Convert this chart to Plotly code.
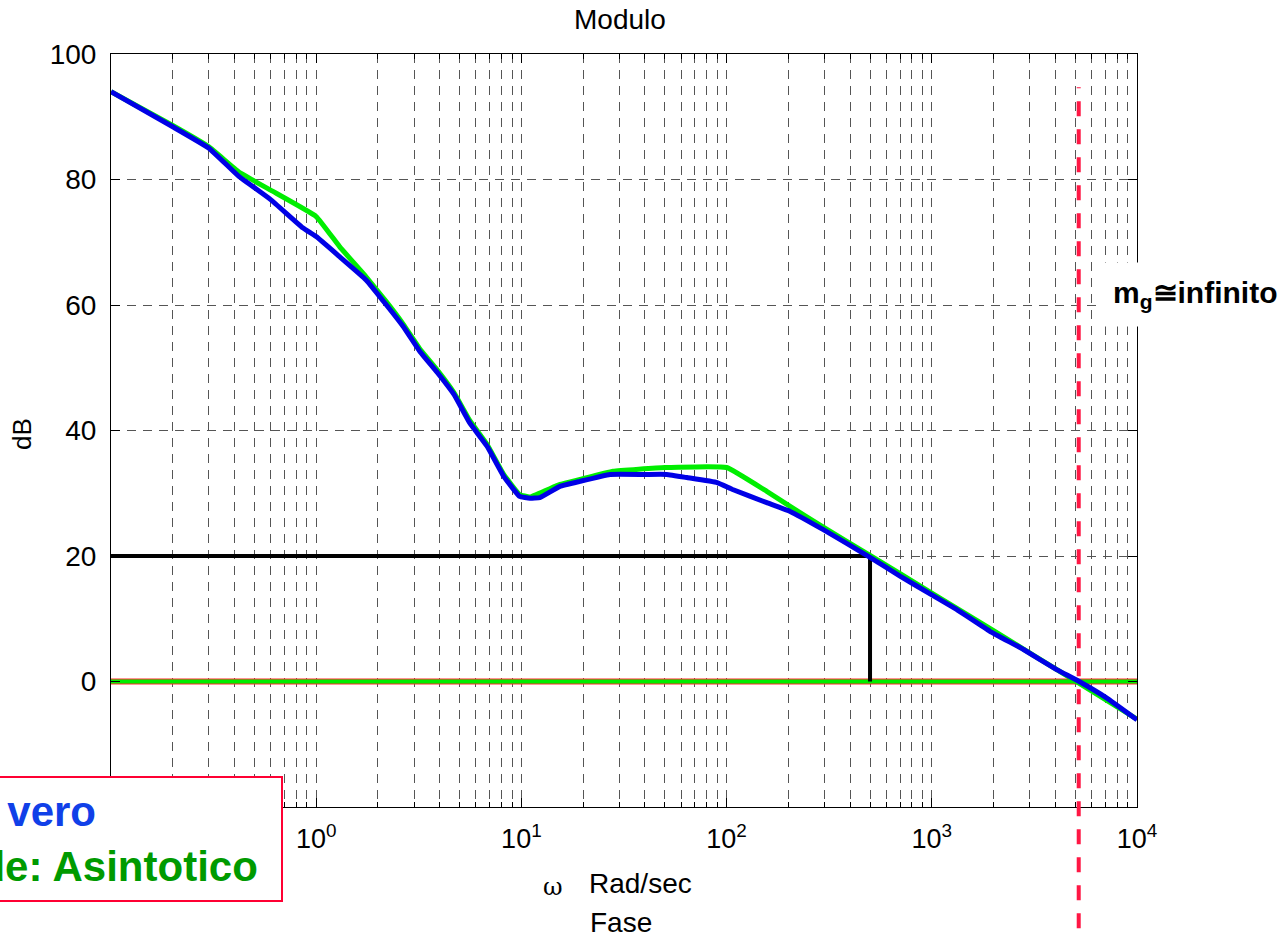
import plotly.graph_objects as go

# ---- data ----
omega_true = [0.1, 0.2, 0.3, 0.42, 0.6, 0.86, 1.0, 1.3, 1.75, 2.2, 2.65, 3.2, 3.9, 4.7,
              5.6, 6.8, 8.2, 9.8, 11, 12.3, 15.4, 19.3, 27, 40, 51, 64, 90, 107, 157,
              204, 296, 500, 700, 1000, 1320, 1920, 2800, 4060, 5100, 7100, 10000]
db_true = [94.0, 88.4, 85.0, 80.5, 76.8, 72.3, 70.9, 67.7, 64.0, 60.0, 56.6, 52.6, 49.2, 45.7,
           41.2, 37.5, 32.7, 29.5, 29.2, 29.3, 31.1, 31.9, 33.0, 33.0, 33.0, 32.5, 31.7, 30.6, 28.5,
           27.1, 24.2, 19.8, 16.8, 13.8, 11.5, 8.0, 5.1, 1.9, 0.2, -2.6, -6.1]

omega_asint = [0.1, 0.2, 0.3, 0.42, 0.6, 1.0, 1.3, 1.75, 2.2, 2.65, 3.2, 3.9, 4.7, 5.6, 6.8, 8.2,
               9.8, 11, 15.4, 19.3, 28, 50, 100, 157, 204, 296, 500, 1000, 2000, 5000, 10000]
db_asint = [94.0, 88.6, 85.2, 81.2, 78.3, 74.1, 69.3, 64.5, 60.5, 57.0, 53.0, 49.6, 46.0, 41.6, 37.8, 33.0,
            29.8, 29.4, 31.4, 32.2, 33.5, 34.1, 34.1, 30.3, 27.9, 24.6, 20.1, 14.1, 8.1, 0.1, -6.0]

zero_x = [0.1, 10000]
zero_y = [0, 0]
guide_x = [0.1, 500, 500]
guide_y = [20, 20, 0]
omega_cross = 5200

x_tick_vals = [0.1, 1, 10, 100, 1000, 10000]
x_tick_text = ["", "10<sup>0</sup>", "10<sup>1</sup>", "10<sup>2</sup>",
               "10<sup>3</sup>", "10<sup>4</sup>"]
x_minor_vals = [m * 10.0 ** k for k in range(-1, 4) for m in range(2, 10)]
y_tick_vals = [-20, 0, 20, 40, 60, 80, 100]
y_tick_text = ["", "0", "20", "40", "60", "80", "100"]

FONT = "Liberation Sans, Arial, sans-serif"
GRID = "#555555"
DASH = "9px,7px"

fig = go.Figure()
fig.add_trace(go.Scatter(x=zero_x, y=zero_y, mode="lines",
                         line=dict(color="#ff2a2a", width=6), showlegend=False))
fig.add_trace(go.Scatter(x=zero_x, y=zero_y, mode="lines",
                         line=dict(color="#00ee00", width=4), showlegend=False))
fig.add_trace(go.Scatter(x=guide_x, y=guide_y, mode="lines",
                         line=dict(color="black", width=4), showlegend=False))
fig.add_trace(go.Scatter(x=omega_asint, y=db_asint, mode="lines",
                         line=dict(color="#00ee00", width=5, shape="spline", smoothing=0.3),
                         showlegend=False))
fig.add_trace(go.Scatter(x=omega_true, y=db_true, mode="lines",
                         line=dict(color="#0000e6", width=5, shape="spline", smoothing=0.3),
                         showlegend=False))

fig.add_shape(type="line", xref="x", yref="paper", x0=omega_cross, x1=omega_cross,
              y0=-0.161, y1=0.956, line=dict(color="#ff1744", width=4, dash="15px,13px"),
              layer="above")

fig.update_xaxes(type="log", range=[-1, 4], tickvals=x_tick_vals, ticktext=x_tick_text,
                 ticks="inside", ticklen=9, tickcolor="black", showline=True,
                 linecolor="black", linewidth=1, mirror="ticks", showgrid=True,
                 gridcolor=GRID, griddash=DASH, gridwidth=1, zeroline=False,
                 ticklabelstandoff=8,
                 tickfont=dict(family=FONT, size=27, color="black"),
                 minor=dict(tickvals=x_minor_vals, ticks="inside", ticklen=5,
                            tickcolor="black", showgrid=True, gridcolor=GRID,
                            griddash=DASH, gridwidth=1))
fig.update_yaxes(range=[-20, 100], tickvals=y_tick_vals, ticktext=y_tick_text,
                 ticks="inside", ticklen=9,
                 tickcolor="black", showline=True, linecolor="black", linewidth=1,
                 mirror="ticks", showgrid=True, gridcolor=GRID, griddash=DASH,
                 gridwidth=1, zeroline=False, ticklabelstandoff=8,
                 tickfont=dict(family=FONT, size=28, color="black"))

L, R, T, B = 111, 1137, 54, 807
W, H = R - L, B - T


def px(x):
    return (x - L) / W


def py(y):
    return (B - y) / H


anns = [
    dict(text="Modulo", x=px(620), y=py(19), font=dict(family=FONT, size=28, color="black")),
    dict(text="ω", x=px(553), y=py(887), font=dict(family="DejaVu Serif, serif", size=24, color="black")),
    dict(text="Rad/sec", x=px(640), y=py(884), font=dict(family=FONT, size=28, color="black")),
    dict(text="Fase", x=px(621), y=py(922), font=dict(family=FONT, size=28, color="black")),
    dict(text="dB", x=px(22), y=py(434), textangle=-90, font=dict(family=FONT, size=26, color="black")),
]
for a in anns:
    fig.add_annotation(xref="paper", yref="paper", showarrow=False,
                       xanchor="center", yanchor="middle", **a)

fig.add_annotation(xref="paper", yref="paper", x=px(1195), y=py(294), showarrow=False,
                   xanchor="center", yanchor="middle", bgcolor="white", borderpad=13,
                   text="<b>m<sub>g</sub>≅infinito</b>",
                   font=dict(family=FONT, size=30, color="black"))

fig.add_annotation(xref="paper", yref="paper", x=px(283), y=py(776), showarrow=False,
                   xanchor="right", yanchor="top", align="left", bgcolor="white",
                   bordercolor="#ff0033", borderwidth=2, borderpad=10, width=357,
                   text="<b><span style='color:#1040e8'>Blu: vero</span><br>"
                        "<span style='color:#009a00'>Verde: Asintotico</span></b>",
                   font=dict(family=FONT, size=42, color="black"))

fig.update_layout(width=1287, height=937, autosize=False,
                  margin=dict(l=L, r=1287 - R, t=T, b=937 - B),
                  paper_bgcolor="white", plot_bgcolor="white", showlegend=False)

fig.write_html("out.html")
